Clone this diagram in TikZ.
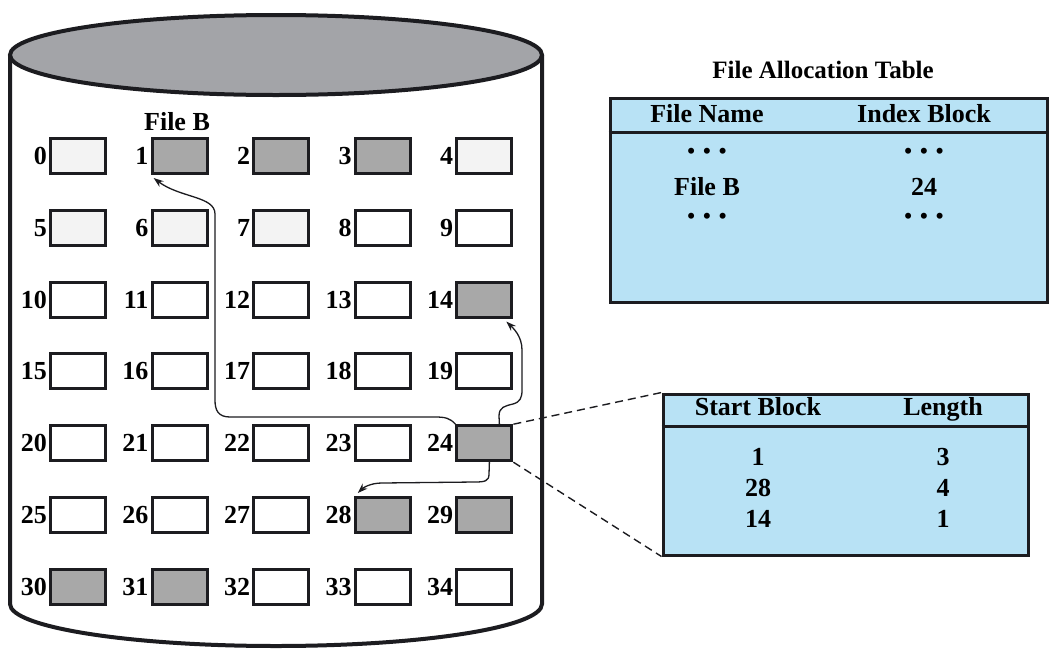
\documentclass[tikz,border=0pt]{standalone}
\usepackage{fontspec}
\setmainfont{Liberation Serif}
\usetikzlibrary{arrows.meta}
\definecolor{ink}{RGB}{28,28,32}
\definecolor{tblue}{RGB}{184,226,245}
\definecolor{topgray}{RGB}{163,164,168}
\definecolor{usedgray}{RGB}{168,168,168}
\definecolor{faintgray}{RGB}{243,243,243}
\newcommand{\dotrow}{{\fontsize{22}{22}\selectfont •\hspace{8pt}•\hspace{8pt}•}}
\begin{document}
\begin{tikzpicture}[x=1pt,y=-1pt,
  font=\fontsize{26}{30}\selectfont\bfseries,
  blk/.style={draw=ink, line width=3pt, minimum width=55pt, minimum height=35pt, inner sep=0pt},
  used/.style={blk, fill=usedgray},
  free/.style={blk, fill=white},
  faint/.style={blk, fill=faintgray},
  num/.style={anchor=east, inner sep=0pt, xshift=-2pt},
  ptr/.style={draw=ink, line width=1.3pt, -{Stealth[length=10pt,width=7pt]}},
  link/.style={draw=ink, line width=1.4pt, dash pattern=on 8pt off 5pt},
  tbl/.style={draw=ink, line width=3pt, fill=tblue, anchor=north west, inner sep=0pt},
  txt/.style={anchor=base, inner sep=0pt},
  dots/.style={anchor=center, inner sep=0pt}
]
\useasboundingbox (0,0) rectangle (1060,659);

% cylinder
\fill[white] (10,55) -- (10,604) .. controls (10,627.2) and (129.1,646) .. (276,646)
  .. controls (422.9,646) and (542,627.2) .. (542,604) -- (542,55) -- cycle;
\draw[ink, line width=4pt] (10,55) -- (10,604) .. controls (10,627.2) and (129.1,646) .. (276,646)
  .. controls (422.9,646) and (542,627.2) .. (542,604) -- (542,55);
\draw[ink, line width=4pt, fill=topgray] (276,55) ellipse [x radius=266, y radius=40];

% blocks
\foreach \i/\st in {0/faint,1/used,2/used,3/used,4/faint,
                    5/faint,6/faint,7/faint,8/free,9/free,
                    10/free,11/free,12/free,13/free,14/used,
                    15/free,16/free,17/free,18/free,19/free,
                    20/free,21/free,22/free,23/free,24/used,
                    25/free,26/free,27/free,28/used,29/used,
                    30/used,31/used,32/free,33/free,34/free}{
  \pgfmathtruncatemacro{\c}{mod(\i,5)}
  \pgfmathtruncatemacro{\r}{div(\i,5)}
  \node[\st] (b\i) at ({78+101.6*\c},{156+71.8*\r}) {};
  \node[num] (n\i) at (b\i.west) {\i};
}
\node[txt] (fileb) at (177,130) {File B};

% File Allocation Table
\node[txt] (fattitle) at (823,78) {\fontsize{25}{30}\selectfont File Allocation Table};
\node[tbl, minimum width=437pt, minimum height=204pt] (fat) at (608.5,96.5) {};
\draw[ink, line width=3pt] (fat.west |- 0,132) -- (fat.east |- 0,132);
\node[txt] (fh1) at (707,122) {File Name};
\node[txt] (fh2) at (924,122) {Index Block};
\node[dots] (fd1) at (707,153) {\dotrow};
\node[dots] (fd2) at (924,153) {\dotrow};
\node[txt] (fr1) at (707,195) {File B};
\node[txt] (fr2) at (924,195) {24};
\node[dots] (fd3) at (707,218) {\dotrow};
\node[dots] (fd4) at (924,218) {\dotrow};

% index block table
\node[tbl, minimum width=365pt, minimum height=161pt] (idx) at (661.5,392.5) {};
\draw[ink, line width=3pt] (idx.west |- 0,426) -- (idx.east |- 0,426);
\node[txt] (ih1) at (758,415) {Start Block};
\node[txt] (ih2) at (943,415) {Length};
\node[txt] (i11) at (758,465) {1};
\node[txt] (i12) at (943,465) {3};
\node[txt] (i21) at (758,496) {28};
\node[txt] (i22) at (943,496) {4};
\node[txt] (i31) at (758,527) {14};
\node[txt] (i32) at (943,527) {1};

% dashed links
\draw[link] (b24.north east) -- (idx.north west);
\draw[link] (b24.south east) -- (idx.south west);

% pointers
\draw[ptr] (b24.north west) .. controls (450,418) and (445,417) .. (435,417) -- (230,417)
  .. controls (218,417) and (215,410) .. (215,400) -- (215,214)
  .. controls (215,196) and (180,198) .. ([shift={(3,3)}]b1.south west);
\draw[ptr] ([xshift=15pt]b24.north) -- (499,416) .. controls (499,407) and (505,406) .. (513,404)
  .. controls (520,402) and (522,398) .. (522,390) -- (522,350)
  .. controls (522,336) and (513,328) .. ([shift={(22,3)}]b14.south);
\draw[ptr] ([xshift=5pt]b24.south) -- (489,474) .. controls (489,481) and (485,482) .. (475,482)
  -- (382,483) .. controls (370,483) and (363,488) .. ([shift={(4,-3)}]b28.north west);
\end{tikzpicture}
\end{document}
